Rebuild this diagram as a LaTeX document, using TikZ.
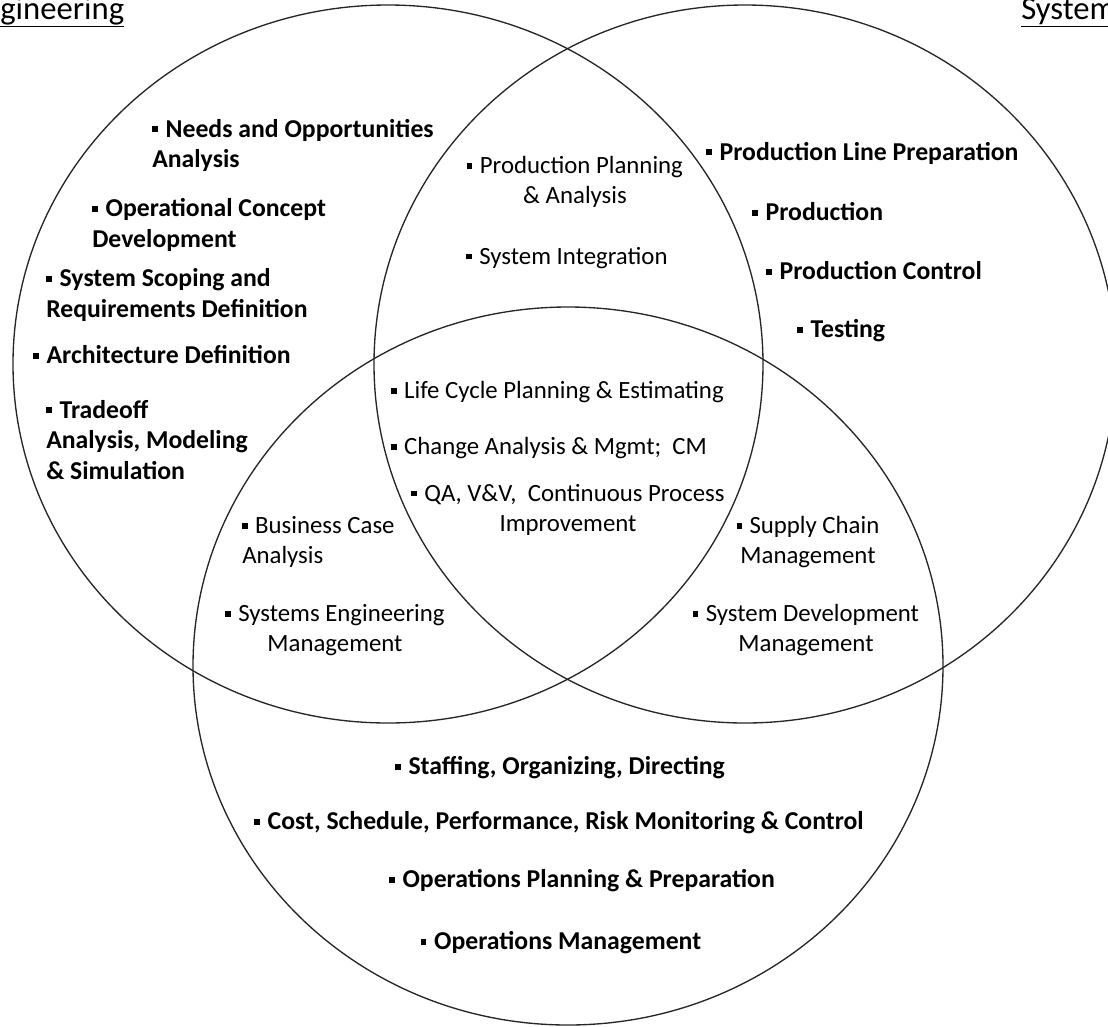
\documentclass[tikz,border=0pt]{standalone}
\usepackage{fontspec}
\setmainfont{Carlito}
\newcommand\itm{\rule[0.2em]{0.22em}{0.22em}\hspace{0.3em}}

\begin{document}
\begin{tikzpicture}[x=0.75pt,y=-0.75pt,
	every node/.style={inner sep=0pt},
	set/.style={draw,line width=1pt,black!85},
	solo/.style={font=\fontsize{19.3}{23}\selectfont\bfseries},
	both/.style={font=\fontsize{18.6}{22.5}\selectfont},
	title/.style={font=\fontsize{24.5}{26}\selectfont,anchor=base west}]
	\useasboundingbox (0,0) rectangle (1108,1026);
	\clip (0,0) rectangle (1108,1026);
	% the three sets
	\draw[set] (388,364) ellipse [x radius=281.25pt,y radius=269.25pt];
	\draw[set] (745,364) ellipse [x radius=278.25pt,y radius=269.25pt];
	\draw[set] (568,666) ellipse [x radius=281.25pt,y radius=269.25pt];
	\node[title] (ttlleft) at (0,19) {\underline{gineering}};
	\node[title] (ttlright) at (1021,19) {\underline{System}};
	% left only
	\node[solo,anchor=west,align=left] (needs) at (152,145.5) {\itm Needs and Opportunities\\Analysis};
	\node[solo,anchor=west,align=left] (opcon) at (92,225) {\itm Operational Concept\\Development};
	\node[solo,anchor=west,align=left] (scope) at (46,295) {\itm System Scoping and\\Requirements Definition};
	\node[solo,anchor=west] (arch) at (33,355) {\itm Architecture Definition};
	\node[solo,anchor=west,align=left] (trade) at (46,440) {\itm Tradeoff\\Analysis, Modeling\\\& Simulation};
	% right only
	\node[solo,anchor=west] (prodline) at (706,153) {\itm Production Line Preparation};
	\node[solo,anchor=west] (prod) at (752,212) {\itm Production};
	\node[solo,anchor=west] (prodctl) at (766,271) {\itm Production Control};
	\node[solo,anchor=west] (test) at (797,331) {\itm Testing};
	% left and right
	\node[both,align=center] (prodplan) at (575,182) {\itm Production Planning\\\& Analysis};
	\node[both] (sysint) at (567,258) {\itm System Integration};
	% all three
	\node[both,anchor=west] (lcplan) at (391,392) {\itm Life Cycle Planning \& Estimating};
	\node[both,anchor=west] (change) at (391,448) {\itm Change Analysis \& Mgmt;\ \ CM};
	\node[both,align=center] (qa) at (568,509.5) {\itm QA, V\&V,\ \ Continuous Process\\Improvement};
	% left and bottom
	\node[both,anchor=west,align=left] (bizcase) at (242,542) {\itm Business Case\\Analysis};
	\node[both,align=center] (semgmt) at (335,630.5) {\itm Systems Engineering\\Management};
	% right and bottom
	\node[both,align=center] (supply) at (808,542) {\itm Supply Chain\\Management};
	\node[both,align=center] (sysdev) at (806,630) {\itm System Development\\Management};
	% bottom only
	\node[solo] (staff) at (560,768) {\itm Staffing, Organizing, Directing};
	\node[solo] (cost) at (559,823) {\itm Cost, Schedule, Performance, Risk Monitoring \& Control};
	\node[solo] (opsplan) at (582,881) {\itm Operations Planning \& Preparation};
	\node[solo] (opsmgmt) at (561,943) {\itm Operations Management};
\end{tikzpicture}
\end{document}
